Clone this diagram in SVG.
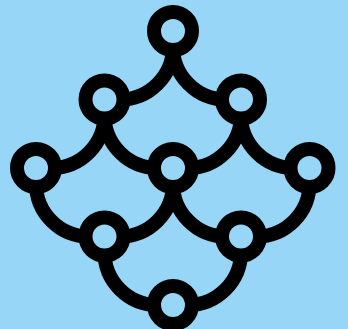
<svg xmlns="http://www.w3.org/2000/svg" width="348" height="329" viewBox="0 0 348 329">
<style>
.bg{fill:#97d6f6}
.edge{fill:none;stroke:#000;stroke-width:14}
.node circle{fill:#97d6f6;stroke:#000;stroke-width:14}
</style>
<rect class="bg" x="0" y="0" width="348" height="329"/>
<g id="connectors">
<path class="edge" d="M173,46 A53,53 0 0 1 119.5,99.5"/>
<path class="edge" d="M173,46 A53,53 0 0 0 226,99.5"/>
<path class="edge" d="M104.5,114.5 A53,53 0 0 1 51,168"/>
<path class="edge" d="M104.5,114.5 A53,53 0 0 0 158,168"/>
<path class="edge" d="M241,114.5 A53,53 0 0 1 188,168"/>
<path class="edge" d="M241,114.5 A53,53 0 0 0 294.5,168"/>
<path class="edge" d="M36,183 A53,53 0 0 0 89.5,236.5"/>
<path class="edge" d="M173,183 A53,53 0 0 1 119.5,236.5"/>
<path class="edge" d="M173,183 A53,53 0 0 0 226,236.5"/>
<path class="edge" d="M309.5,183 A53,53 0 0 1 256,236.5"/>
<path class="edge" d="M104.5,251.5 A53,53 0 0 0 158,305"/>
<path class="edge" d="M241,251.5 A53,53 0 0 1 188,305"/>
</g>
<g id="n1" class="node"><circle cx="173" cy="31" r="19"/></g>
<g id="n2" class="node"><circle cx="104.5" cy="99.5" r="19"/></g>
<g id="n3" class="node"><circle cx="241" cy="99.5" r="19"/></g>
<g id="n4" class="node"><circle cx="36" cy="168" r="19"/></g>
<g id="n5" class="node"><circle cx="173" cy="168" r="19"/></g>
<g id="n6" class="node"><circle cx="309.5" cy="168" r="19"/></g>
<g id="n7" class="node"><circle cx="104.5" cy="236.5" r="19"/></g>
<g id="n8" class="node"><circle cx="241" cy="236.5" r="19"/></g>
<g id="n9" class="node"><circle cx="173" cy="305" r="19"/></g>
</svg>
